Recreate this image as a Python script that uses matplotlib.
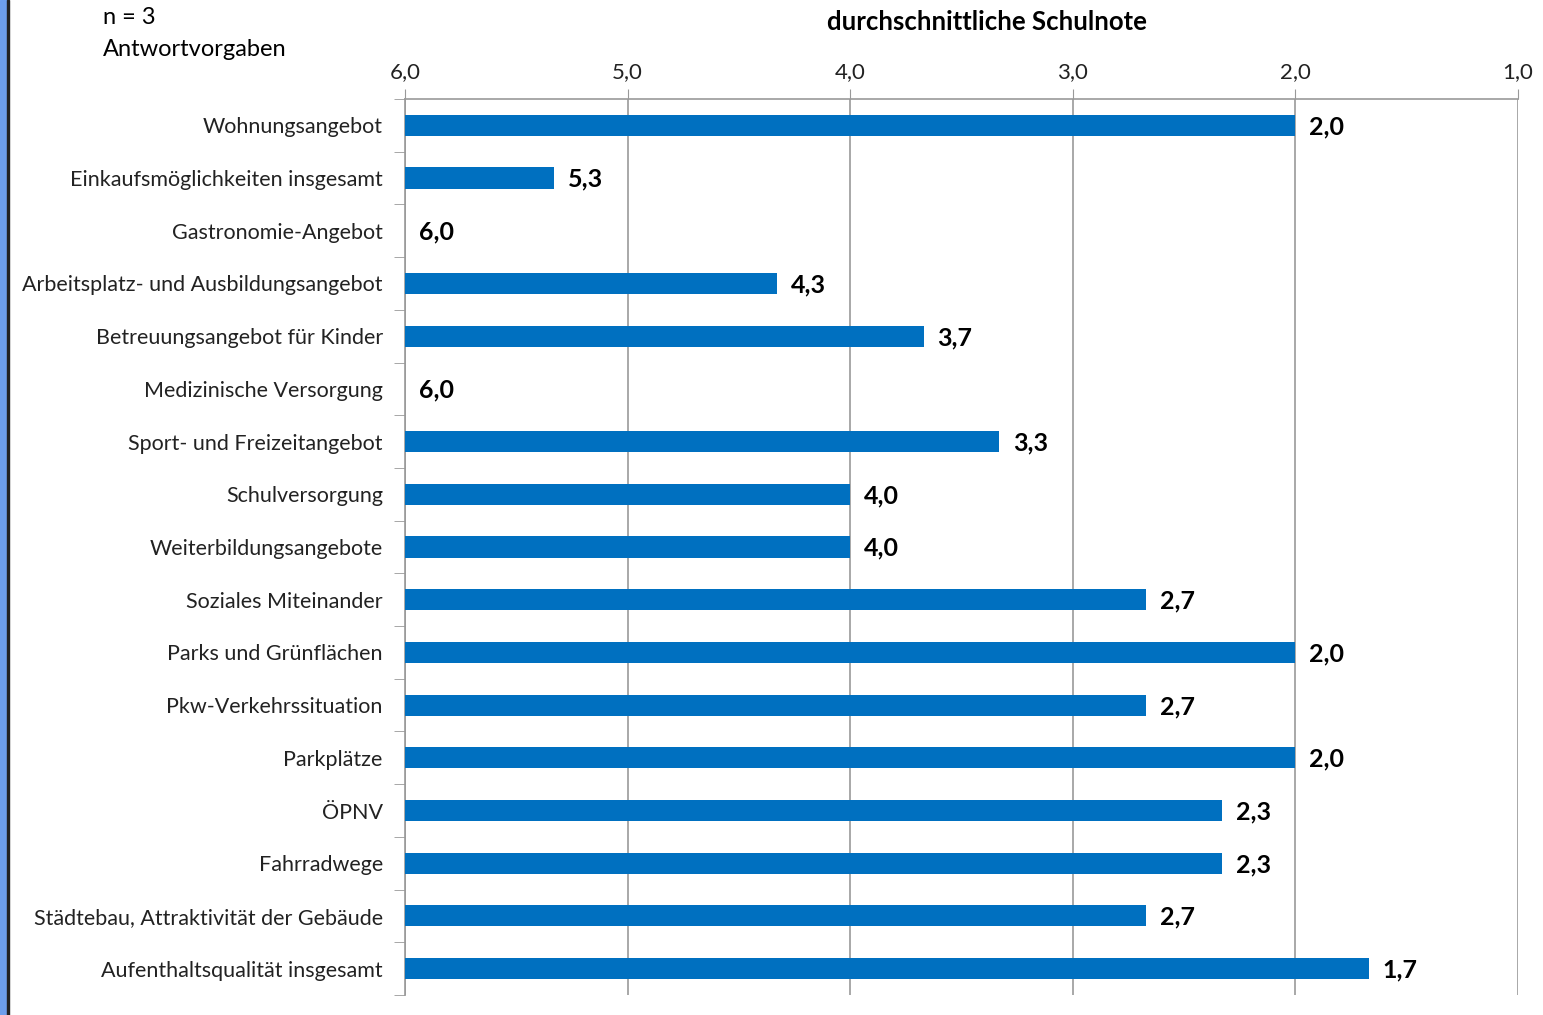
import matplotlib.pyplot as plt
import numpy as np
from matplotlib.patches import Rectangle

plt.rcParams['font.family'] = ['Lato', 'DejaVu Sans']

# data
categories = ["Wohnungsangebot", "Einkaufsmöglichkeiten insgesamt", "Gastronomie-Angebot",
              "Arbeitsplatz- und Ausbildungsangebot", "Betreuungsangebot für Kinder",
              "Medizinische Versorgung", "Sport- und Freizeitangebot", "Schulversorgung",
              "Weiterbildungsangebote", "Soziales Miteinander", "Parks und Grünflächen",
              "Pkw-Verkehrssituation", "Parkplätze", "ÖPNV", "Fahrradwege",
              "Städtebau, Attraktivität der Gebäude", "Aufenthaltsqualität insgesamt"]
noten = [2.0, 5.33, 6.0, 4.33, 3.67, 6.0, 3.33, 4.0, 4.0, 2.67, 2.0, 2.67, 2.0, 2.33, 2.33, 2.67, 1.67]
xticks = [6.0, 5.0, 4.0, 3.0, 2.0, 1.0]

fig = plt.figure(figsize=(15.43, 10.15), dpi=100)
ax = fig.add_axes([0.2625, 0.0197, 0.7213, 0.8828])

y = np.arange(len(categories))
ax.barh(y, [6.0 - v for v in noten], left=noten, height=0.4, color='#0070C0', zorder=3)

for yi, v in zip(y, noten):
    ax.annotate(f"{v:.1f}".replace('.', ','), (v, yi), xytext=(10, -1), textcoords='offset points',
                va='center', ha='left', fontsize=18, fontweight='bold', color='black')

ax.set_xlim(6.0, 1.0)
ax.set_ylim(len(categories) - 0.5, -0.5)
ax.xaxis.tick_top()
ax.set_xticks(xticks)
ax.set_xticklabels([f"{t:.1f}".replace('.', ',') for t in xticks], fontsize=16, color='#222222')
ax.tick_params(axis='x', direction='out', length=7, color='#999999', pad=5)
ax.grid(axis='x', color='#999999', linewidth=1.2, zorder=0)

ax.set_yticks(y)
ax.set_yticklabels(categories, fontsize=15.5, color='#222222')
ax.tick_params(axis='y', length=0, pad=16)
ax.set_yticks(np.arange(len(categories) + 1) - 0.5, minor=True)
ax.tick_params(axis='y', which='minor', direction='out', length=8, color='#999999')

for s in ['bottom', 'right']:
    ax.spines[s].set_visible(False)
for s in ['top', 'left']:
    ax.spines[s].set_color('#999999')
    ax.spines[s].set_linewidth(1.2)

fig.text(987 / 1543, 1 - 22 / 1015, "durchschnittliche Schulnote", ha='center', va='center',
         fontsize=18.5, fontweight='bold')
fig.text(103 / 1543, 1 - 17 / 1015, "n = 3", ha='left', va='center', fontsize=17)
fig.text(103 / 1543, 1 - 49 / 1015, "Antwortvorgaben", ha='left', va='center', fontsize=17)

# left border strip
fig.patches.append(Rectangle((0, 0), 7 / 1543, 1, transform=fig.transFigure, color='#6D9EEB', zorder=0))
fig.patches.append(Rectangle((7 / 1543, 0), 2 / 1543, 1, transform=fig.transFigure, color='#222222', zorder=0))

fig.savefig('out.png', dpi=100)
